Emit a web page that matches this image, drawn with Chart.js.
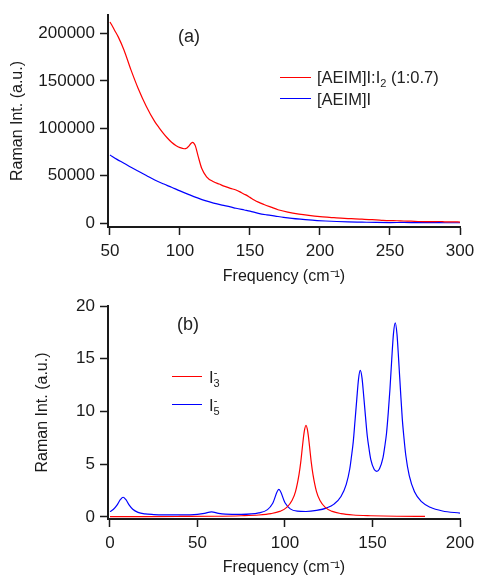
<!DOCTYPE html>
<html lang="en">
<head>
  <meta charset="UTF-8" />
  <title>Raman spectra</title>
  <script src="https://cdn.jsdelivr.net/npm/chart.js"></script>
  <style>
    body {
      margin: 0;
      background: #fff;
      font-family: 'Liberation Sans', Arial, sans-serif;
      color: #222;
    }
    #wrap { position: relative; width: 477px; height: 578px; }
    canvas { position: absolute; left: 0; }
    #chartA { top: 0; }
    #chartB { top: 290px; }
    .lbl { position: absolute; font-size: 16.5px; line-height: 16px; white-space: nowrap; }
    .panel { font-size: 18px; line-height: 18px; }
    .key { position: absolute; width: 31px; height: 0; border-top: 1.5px solid; }
    .lo { font-size: 11px; position: relative; top: 4px; }
    .hi { font-size: 11px; position: relative; top: -7px; margin-left: -6px; }
  </style>
</head>
<body>
  <div id="wrap">
    <canvas id="chartA" width="477" height="290"></canvas>
    <canvas id="chartB" width="477" height="288"></canvas>

    <!-- panel (a) labels / legend -->
    <div class="lbl panel" style="left:178px; top:27px;">(a)</div>
    <div class="key" style="left:280px; top:77px; border-color:#ff0000;"></div>
    <div class="lbl" style="left:317px; top:69px;">[AEIM]I:I<span class="lo">2</span> (1:0.7)</div>
    <div class="key" style="left:280px; top:98px; border-color:#0000ff;"></div>
    <div class="lbl" style="left:317px; top:91px;">[AEIM]I</div>

    <!-- panel (b) labels / legend -->
    <div class="lbl panel" style="left:177px; top:315px;">(b)</div>
    <div class="key" style="left:172px; top:376px; width:30px; border-color:#ff0000;"></div>
    <div class="lbl" style="left:209px; top:369px;">I<span class="lo">3</span><span class="hi">-</span></div>
    <div class="key" style="left:172px; top:404px; width:30px; border-color:#0000ff;"></div>
    <div class="lbl" style="left:209px; top:397px;">I<span class="lo">5</span><span class="hi">-</span></div>
  </div>

  <script>
    // (a) measured spectra
    const freqRedA = [50, 51, 53, 56, 60, 65, 70, 76, 82, 85, 88, 91, 94, 97, 100, 103, 105, 106.5, 108, 109,
      110, 111, 113, 115.5, 119, 124, 128, 132, 136, 140, 144, 147, 150, 153, 156, 160, 165, 170, 177, 185,
      192, 200, 205, 210, 215, 220, 225, 230, 235, 240, 245, 250, 255, 260, 265, 270, 275, 280, 285, 290,
      295, 300];
    const ramanRedA = [212000, 209500, 204000, 196000, 182500, 161500, 142500, 123000, 107000, 100800, 95000, 89800, 85300, 82000, 79700, 78500, 79300, 81500, 84300, 85300,
      84200, 81500, 70500, 58000, 49000, 43700, 41300, 38900, 36800, 35100, 32200, 29900, 27300, 24600, 22300, 19800, 17000, 14300, 11800, 9700,
      8300, 7000, 6400, 5900, 5400, 5000, 4700, 4300, 3900, 3600, 3100, 2800, 2700, 2400, 2300, 1900, 1800, 1700, 1900, 1500,
      1600, 1300];

    const freqBlueA = [50, 55, 60, 65, 70, 76, 82, 88, 94, 100, 106, 112, 118, 124, 130, 136, 140, 146, 150, 156,
      162, 168, 174, 180, 186, 192, 198, 204, 212, 220, 230, 240, 250, 260, 270, 280, 290, 300];
    const ramanBlueA = [72000, 67300, 63300, 59000, 55000, 50300, 45600, 41600, 37900, 34100, 30500, 27000, 23800, 21300, 19200, 17300, 15800, 14000, 12800, 10500,
      8900, 7600, 6300, 5200, 4300, 3500, 2900, 2400, 1900, 1500, 1200, 900, 800, 900, 700, 800, 600, 600];

    const xTicksA = [50, 100, 150, 200, 250, 300];
    const yTicksA = [0, 50000, 100000, 150000, 200000];

    // (b) calculated spectra
    const freqI3 = [0, 20, 40, 60, 75, 85, 92, 97, 101, 104, 106, 108, 109, 110, 111, 112, 113, 114, 115, 116,
      118, 120, 123, 127, 132, 139, 149, 164, 180];
    const ramanI3 = [0.04, 0.04, 0.05, 0.07, 0.12, 0.19, 0.32, 0.53, 0.91, 1.56, 2.41, 4.02, 5.2, 6.73, 8.09, 8.68, 8.09, 6.73, 5.2, 4.02,
      2.41, 1.56, 0.91, 0.53, 0.32, 0.19, 0.12, 0.07, 0.06];

    const freqI5 = [0, 2, 4, 6, 7.5, 9, 11, 13, 16, 20, 25, 30, 40, 50, 54, 58, 62, 66, 75, 85,
      90, 93, 96.5, 100, 103, 107, 112, 118, 124, 128, 132, 135, 137, 138, 139, 140, 141, 142, 143, 144,
      145, 146, 147, 148, 149, 151, 152.5, 154, 156, 157, 158, 159, 160, 161, 162, 163, 164, 165, 166, 167,
      168, 169, 171, 174, 178, 183, 190, 200];
    const ramanI5 = [0.51, 0.73, 1.12, 1.66, 1.87, 1.66, 1.12, 0.73, 0.44, 0.29, 0.23, 0.2, 0.2, 0.25, 0.34, 0.49, 0.34, 0.27, 0.25, 0.39,
      0.7, 1.31, 2.61, 1.35, 0.77, 0.55, 0.52, 0.62, 0.87, 1.22, 1.94, 3.09, 4.55, 5.76, 7.12, 9.1, 11.13, 13.05, 13.89, 13.19,
      11.42, 9.51, 7.7, 6.49, 5.47, 4.5, 4.33, 4.57, 5.62, 6.67, 7.92, 9.87, 12.18, 14.96, 17.41, 18.4, 17.31, 14.75, 11.98, 9.35,
      7.47, 5.88, 3.92, 2.4, 1.45, 0.92, 0.57, 0.37];

    const xTicksB = [0, 50, 100, 150, 200];
    const yTicksB = [0, 5, 10, 15, 20];

    const ink = '#1a1a1a';
    const tickFont = { family: "'Liberation Sans', Arial, sans-serif", size: 17 };
    const titleFont = { family: "'Liberation Sans', Arial, sans-serif", size: 16 };

    function toPoints(xs, ys) {
      return xs.map((x, i) => ({ x: x, y: ys[i] }));
    }

    function series(xs, ys, color) {
      return {
        data: toPoints(xs, ys),
        borderColor: color,
        borderWidth: 1.2,
        pointRadius: 0,
        showLine: true,
        cubicInterpolationMode: 'monotone',
        fill: false
      };
    }

    function scales(p) {
      return {
        x: {
          type: 'linear',
          min: p.xMin,
          max: p.xMax,
          afterBuildTicks: s => { s.ticks = p.xTicks.map(v => ({ value: v })); },
          afterFit: s => { s.height = p.xAxisH; s.paddingLeft = 0; s.paddingRight = 0; },
          grid: { drawOnChartArea: false, drawTicks: true, tickLength: 8, tickWidth: 1.5, tickColor: ink },
          border: { display: true, color: ink, width: 2 },
          ticks: { color: ink, font: tickFont, padding: 6, maxRotation: 0, callback: v => String(v) },
          title: {
            display: true, text: 'Frequency (cm⁻¹)', color: ink, font: titleFont,
            padding: { top: 0, bottom: p.xTitlePad }
          }
        },
        y: {
          type: 'linear',
          min: p.yMin,
          max: p.yMax,
          afterBuildTicks: s => { s.ticks = p.yTicks.map(v => ({ value: v })); },
          afterFit: s => { s.width = 108; s.paddingTop = 0; s.paddingBottom = 0; },
          grid: { drawOnChartArea: false, drawTicks: true, tickLength: 8, tickWidth: 1.5, tickColor: ink },
          border: { display: true, color: ink, width: 2 },
          ticks: { color: ink, font: tickFont, padding: 5, callback: v => String(v) },
          title: {
            display: true, text: 'Raman Int. (a.u.)', color: ink, font: titleFont,
            padding: { top: p.yTitlePad, bottom: 0 }
          }
        }
      };
    }

    new Chart(document.getElementById('chartA'), {
      type: 'scatter',
      data: {
        datasets: [
          series(freqRedA, ramanRedA, '#ff0000'),
          series(freqBlueA, ramanBlueA, '#0000ff')
        ]
      },
      options: {
        responsive: false,
        animation: false,
        layout: { padding: { top: 15, right: 17, bottom: 0, left: 0 } },
        plugins: { legend: { display: false }, tooltip: { enabled: false } },
        scales: scales({
          xMin: 48.6, xMax: 300, xTicks: xTicksA, xAxisH: 63, xTitlePad: 3.4,
          yMin: -3900, yMax: 219300, yTicks: yTicksA, yTitlePad: 8.4
        })
      }
    });

    new Chart(document.getElementById('chartB'), {
      type: 'scatter',
      data: {
        datasets: [
          series(freqI3, ramanI3, '#ff0000'),
          series(freqI5, ramanI5, '#0000ff')
        ]
      },
      options: {
        responsive: false,
        animation: false,
        layout: { padding: { top: 16, right: 17, bottom: 0, left: 0 } },
        plugins: { legend: { display: false }, tooltip: { enabled: false } },
        scales: scales({
          xMin: -1.14, xMax: 200, xTicks: xTicksB, xAxisH: 59, xTitlePad: 0.4,
          yMin: -0.19, yMax: 20, yTicks: yTicksB, yTitlePad: 33.4
        })
      }
    });
  </script>
</body>
</html>
